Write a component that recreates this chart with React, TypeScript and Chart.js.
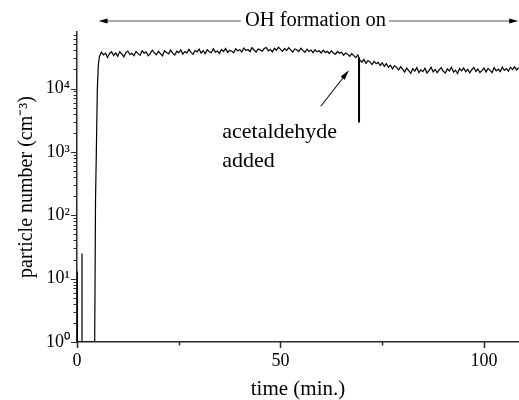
import React, { useEffect, useRef } from "react";
import { Chart, registerables } from "chart.js";

Chart.register(...registerables);

// ---- data ----
// early part: two short spikes, then the steep rise when OH formation starts (cm^-3)
const earlyTimes = [0, 0.1, 0.1, 0.1, 1.23, 1.23, 1.23, 4.35, 4.55, 4.75, 5.0, 5.25];
const earlyCounts = [1, 1, 13, 1, 1, 25, 1, 1, 170, 1000, 10000, 24000];

// plateau: sampled every 0.5 min from 5.5 min, values in thousands of cm^-3
const plateauStart = 5.5;
const plateauStep = 0.5;
const plateauCountsK = [
  31.8, 37.5, 34.0, 36.2, 30.9, 35.8, 38.1, 33.0, 36.6, 32.4,
  37.9, 35.1, 31.6, 36.8, 39.0, 34.2, 36.0, 32.9, 38.4, 35.5,
  33.4, 39.3, 36.1, 37.8, 33.0, 35.9, 40.2, 36.5, 34.1, 38.7,
  35.6, 32.8, 39.5, 37.0, 35.3, 40.4, 36.2, 33.7, 38.9, 36.8,
  40.6, 35.0, 38.2, 36.4, 41.5, 37.1, 34.6, 39.8, 37.9, 42.0,
  36.3, 39.6, 35.4, 40.8, 38.0, 36.7, 42.3, 37.5, 39.1, 35.9,
  41.2, 38.3, 43.0, 37.2, 40.1, 38.8, 36.9, 42.5, 39.4, 41.0,
  37.8, 43.6, 39.7, 41.3, 38.2, 44.2, 40.5, 37.6, 42.1, 40.8,
  38.9, 42.7, 44.5, 39.3, 41.6, 37.9, 43.1, 40.2, 45.0, 41.4,
  38.6, 42.9, 39.8, 44.0, 40.7, 37.7, 42.2, 41.0, 38.4, 43.2,
  39.9, 37.3, 41.8, 38.5, 40.6, 36.8, 41.1, 38.0, 39.5, 36.4,
  40.2, 37.0, 38.6, 35.7, 39.3, 36.2, 34.8, 38.5, 36.0, 37.4,
  33.6, 36.5, 34.9, 32.2, 35.6, 33.1, 30.8, 33.9, 28.1, 26.2,
  28.9, 25.0, 27.6, 26.1, 23.9, 27.0, 24.6, 25.8, 23.1, 25.5,
  22.4, 24.8, 21.7, 23.4, 20.5, 22.9, 21.8, 19.6, 22.0, 20.3,
  18.2, 21.0, 19.1, 17.4, 20.6, 18.8, 21.4, 17.9, 19.7, 18.5,
  20.9, 17.6, 19.4, 21.6, 18.3, 20.0, 17.8, 19.9, 21.3, 18.7,
  17.5, 20.4, 18.9, 21.8, 18.1, 19.5, 17.3, 20.7, 19.0, 21.2,
  18.4, 20.1, 17.7, 19.8, 21.5, 18.6, 20.3, 17.9, 19.2, 21.0,
  18.2, 20.8, 19.4, 17.8, 21.4, 19.0, 20.2, 18.5, 21.9, 19.3,
  20.6, 18.8, 21.7, 19.9, 22.0, 19.6, 21.3,
];

// acetaldehyde addition marker
const additionTime = 69.3;
const additionMarkTop = 31000;
const additionMarkBottom = 2900;

// axes
const xMin = 0;
const xMax = 108.6;
const yMin = 1;
const yMax = 78000;
const xMajorTicks = [0, 50, 100];
const xMinorTicks = [25, 75];
const yMajorTicks = [1, 10, 100, 1000, 10000];

// annotations
const ohStartTime = 5.3;
const ohEndTime = 108.4;
const ohLabelTime = 58.6;
const noteTime = 35.7;
const noteLine1Count = 1640;
const noteLine2Count = 583;
const noteArrowFrom = { t: 59.9, n: 5250 };
const noteArrowTo = { t: 66.8, n: 19400 };

const FONT = '"Liberation Serif", "Times New Roman", serif';
const AXIS_COLOR = "#2a2a2a";

const SUP: Record<string, string> = {
  "0": "\u2070", "1": "\u00B9", "2": "\u00B2", "3": "\u00B3", "4": "\u2074",
  "5": "\u2075", "6": "\u2076", "7": "\u2077", "8": "\u2078", "9": "\u2079",
};

function powLabel(v: number): string {
  const e = String(Math.round(Math.log10(v)));
  return "10" + e.split("").map((c) => SUP[c] || c).join("");
}

function arrowHead(ctx: CanvasRenderingContext2D, tipX: number, tipY: number, fromX: number, fromY: number, len: number, half: number) {
  const a = Math.atan2(tipY - fromY, tipX - fromX);
  const bx = tipX - len * Math.cos(a);
  const by = tipY - len * Math.sin(a);
  const nx = -Math.sin(a) * half;
  const ny = Math.cos(a) * half;
  ctx.beginPath();
  ctx.moveTo(tipX, tipY);
  ctx.lineTo(bx + nx, by + ny);
  ctx.lineTo(bx - nx, by - ny);
  ctx.closePath();
  ctx.fill();
}

const overlayPlugin = {
  id: "overlay",
  afterDraw(chart: any) {
    const { ctx, chartArea, scales } = chart;
    const x = scales.x;
    const y = scales.y;
    ctx.save();

    // tick marks (outward)
    ctx.strokeStyle = AXIS_COLOR;
    ctx.lineWidth = 1.5;
    ctx.beginPath();
    for (const v of xMajorTicks) {
      const px = Math.round(x.getPixelForValue(v)) + 0.5;
      ctx.moveTo(px, chartArea.bottom);
      ctx.lineTo(px, chartArea.bottom + 6);
    }
    for (const v of xMinorTicks) {
      const px = Math.round(x.getPixelForValue(v)) + 0.5;
      ctx.moveTo(px, chartArea.bottom);
      ctx.lineTo(px, chartArea.bottom + 3.5);
    }
    ctx.stroke();
    ctx.lineWidth = 1.2;
    ctx.beginPath();
    for (const v of yMajorTicks) {
      const py = Math.round(y.getPixelForValue(v)) + 0.5;
      ctx.moveTo(chartArea.left, py);
      ctx.lineTo(chartArea.left - 6, py);
      for (let k = 2; k <= 9; k++) {
        const mv = v * k;
        if (mv > yMax) break;
        const my = Math.round(y.getPixelForValue(mv)) + 0.5;
        ctx.moveTo(chartArea.left, my);
        ctx.lineTo(chartArea.left - 3.5, my);
      }
    }
    ctx.stroke();

    // "OH formation on" double arrow above the plot
    const topY = chartArea.top - 11;
    const x1 = x.getPixelForValue(ohStartTime);
    const x2 = x.getPixelForValue(ohEndTime);
    const xc = x.getPixelForValue(ohLabelTime);
    ctx.font = `20.5px ${FONT}`;
    ctx.fillStyle = "#000";
    ctx.textAlign = "center";
    ctx.textBaseline = "middle";
    const label = "OH formation on";
    const w = ctx.measureText(label).width;
    ctx.fillText(label, xc, topY);
    ctx.strokeStyle = "#555";
    ctx.lineWidth = 1.2;
    ctx.beginPath();
    ctx.moveTo(x1 + 4, topY);
    ctx.lineTo(xc - w / 2 - 4, topY);
    ctx.moveTo(xc + w / 2 + 3, topY);
    ctx.lineTo(x2 - 4, topY);
    ctx.stroke();
    ctx.fillStyle = "#000";
    arrowHead(ctx, x1, topY, x1 + 10, topY, 9, 2.4);
    arrowHead(ctx, x2, topY, x2 - 10, topY, 9, 2.4);

    // acetaldehyde note
    ctx.font = `22px ${FONT}`;
    ctx.textAlign = "left";
    ctx.textBaseline = "alphabetic";
    const nx = x.getPixelForValue(noteTime);
    ctx.fillText("acetaldehyde", nx, y.getPixelForValue(noteLine1Count));
    ctx.fillText("added", nx, y.getPixelForValue(noteLine2Count));

    const ax1 = x.getPixelForValue(noteArrowFrom.t);
    const ay1 = y.getPixelForValue(noteArrowFrom.n);
    const ax2 = x.getPixelForValue(noteArrowTo.t);
    const ay2 = y.getPixelForValue(noteArrowTo.n);
    ctx.strokeStyle = "#111";
    ctx.lineWidth = 1.1;
    const ang = Math.atan2(ay2 - ay1, ax2 - ax1);
    ctx.beginPath();
    ctx.moveTo(ax1, ay1);
    ctx.lineTo(ax2 - 6 * Math.cos(ang), ay2 - 6 * Math.sin(ang));
    ctx.stroke();
    arrowHead(ctx, ax2, ay2, ax1, ay1, 10, 2.6);

    ctx.restore();
  },
};

export default function App() {
  const canvasRef = useRef<HTMLCanvasElement | null>(null);

  useEffect(() => {
    document.body.style.margin = "0";
    const canvas = canvasRef.current;
    if (!canvas) return;

    const trace: { x: number; y: number }[] = [];
    earlyTimes.forEach((t, i) => trace.push({ x: t, y: earlyCounts[i] }));
    plateauCountsK.forEach((v, i) => trace.push({ x: plateauStart + i * plateauStep, y: v * 1000 }));

    const chart = new Chart(canvas, {
      type: "line",
      data: {
        datasets: [
          {
            label: "particle number",
            data: trace,
            borderColor: "#000",
            borderWidth: 1.2,
            pointRadius: 0,
            tension: 0,
            fill: false,
          },
          {
            label: "acetaldehyde added",
            data: [
              { x: additionTime, y: additionMarkTop },
              { x: additionTime, y: additionMarkBottom },
            ],
            borderColor: "#000",
            borderWidth: 2,
            pointRadius: 0,
            fill: false,
          },
        ],
      },
      options: {
        responsive: false,
        animation: false,
        events: [],
        layout: { padding: { left: 0, right: 0, top: 32, bottom: 0 } },
        plugins: {
          legend: { display: false },
          tooltip: { enabled: false },
          title: { display: false },
        },
        scales: {
          x: {
            type: "linear",
            min: xMin,
            max: xMax,
            grid: { display: false, drawTicks: false },
            border: { display: true, color: AXIS_COLOR, width: 1.5 },
            afterBuildTicks: (scale: any) => {
              scale.ticks = xMajorTicks.map((v) => ({ value: v }));
            },
            afterFit: (scale: any) => {
              scale.height = 58;
            },
            ticks: {
              padding: 8,
              color: "#000",
              font: { family: FONT, size: 18 },
              maxRotation: 0,
              autoSkip: false,
              callback: (v: any) => String(v),
            },
            title: {
              display: true,
              text: "time (min.)",
              color: "#000",
              font: { family: FONT, size: 21, lineHeight: 1 },
              padding: { top: 0, bottom: 0 },
            },
          },
          y: {
            type: "logarithmic",
            min: yMin,
            max: yMax,
            grid: { display: false, drawTicks: false },
            border: { display: true, color: AXIS_COLOR, width: 1.5 },
            afterBuildTicks: (scale: any) => {
              scale.ticks = yMajorTicks.map((v) => ({ value: v }));
            },
            afterFit: (scale: any) => {
              scale.width = 77;
            },
            ticks: {
              padding: 7,
              color: "#000",
              font: { family: FONT, size: 18 },
              autoSkip: false,
              callback: (v: any) => powLabel(Number(v)),
            },
            title: {
              display: true,
              text: "particle number (cm\u207B\u00B3)",
              color: "#000",
              font: { family: FONT, size: 20 },
              padding: { top: 15, bottom: 0 },
            },
          },
        },
      },
      plugins: [overlayPlugin],
    });

    return () => chart.destroy();
  }, []);

  return (
    <div style={{ width: 519, height: 400, background: "#fff" }}>
      <canvas ref={canvasRef} width={519} height={400} style={{ display: "block" }} />
    </div>
  );
}
